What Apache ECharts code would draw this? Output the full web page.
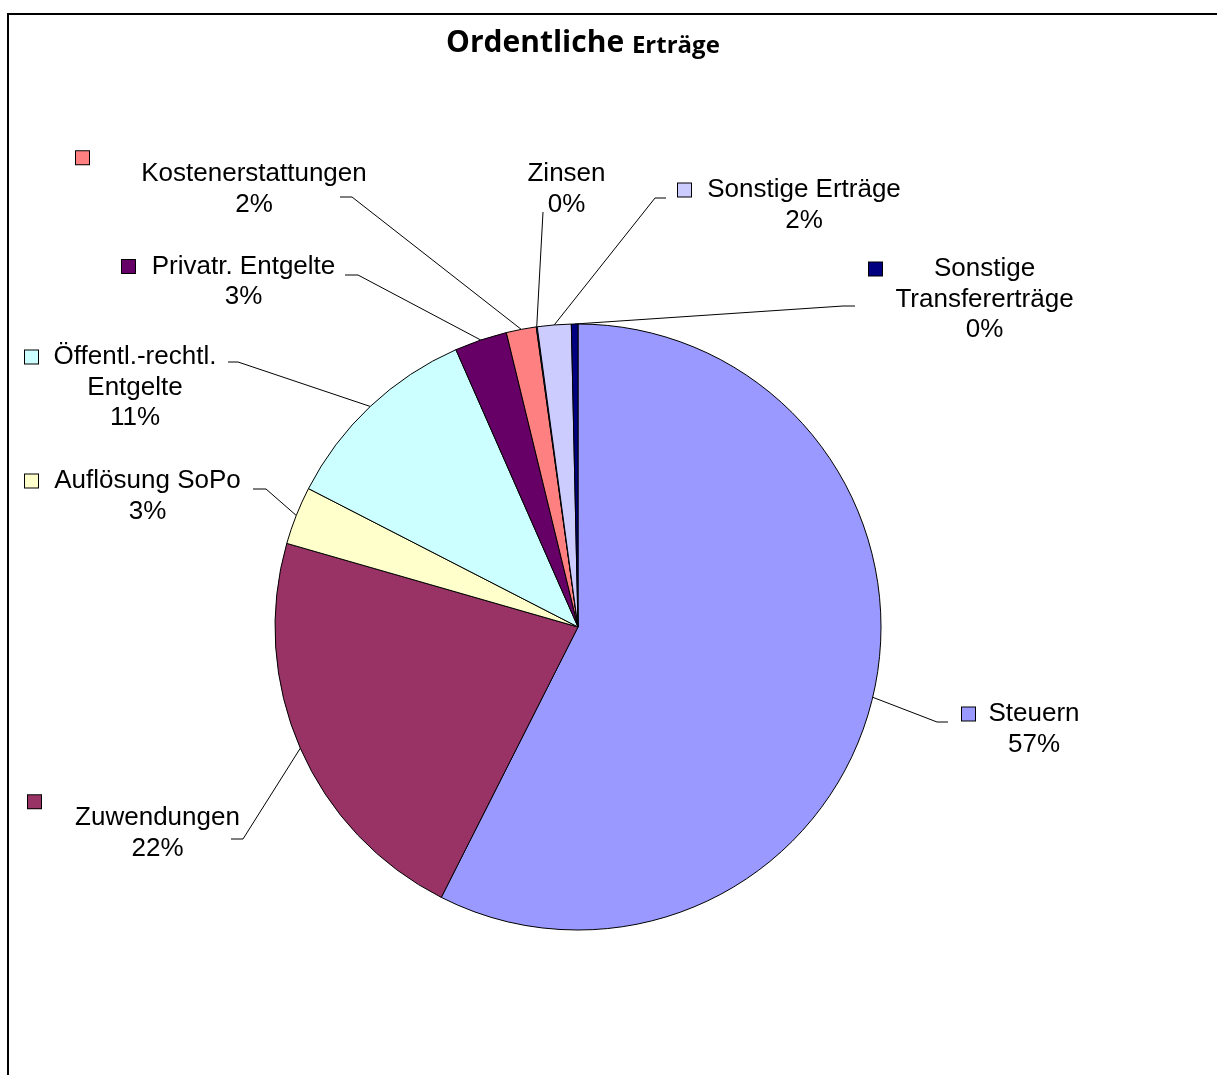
<!DOCTYPE html>
<html>
<head>
<meta charset="utf-8">
<title>Ordentliche Erträge</title>
<script src="https://cdn.jsdelivr.net/npm/echarts/dist/echarts.min.js"></script>
<style>
  html, body { margin: 0; padding: 0; background: #ffffff; }
  #chart { width: 1217px; height: 1075px; }
</style>
</head>
<body>
<div id="chart"></div>
<script>
// Anteile der ordentlichen Erträge (in %)
const categories = [
  'Steuern',
  'Zuwendungen',
  'Auflösung SoPo',
  'Öffentl.-rechtl.\nEntgelte',
  'Privatr. Entgelte',
  'Kostenerstattungen',
  'Zinsen',
  'Sonstige Erträge',
  'Sonstige\nTransfererträge'
];
const shares = [57.45, 22.0, 3.1, 10.85, 2.8, 1.6, 0.05, 1.8, 0.35];
const sliceColors = ['#9999FF', '#993366', '#FFFFCC', '#CCFFFF', '#660066', '#FF8080', '#0066CC', '#CCCCFF', '#000080'];

// Label placement: block left edge, text centre, centre of first text line,
// how the colour key is shown, and the leader line's bend / end points.
const labelSpots = [
  { mode: 'inline', left: 962, cx: 1034,  y1: 714,   bend: [937, 722], end: [948, 722] },
  { mode: 'above',  left: 28,  cx: 157.5, y1: 818,   bend: [243, 839], end: [231, 839] },
  { mode: 'inline', left: 25,  cx: 147.5, y1: 481,   bend: [266, 489], end: [253, 489] },
  { mode: 'inline', left: 25,  cx: 135,   y1: 357,   bend: [238, 362], end: [228, 362] },
  { mode: 'inline', left: 122, cx: 243.5, y1: 266.5, bend: [358, 275], end: [345, 275] },
  { mode: 'above',  left: 76,  cx: 254,   y1: 174,   bend: [352, 197], end: [340, 197] },
  { mode: 'none',   left: 517, cx: 566.5, y1: 174,   bend: [543, 212], end: [543, 212] },
  { mode: 'inline', left: 678, cx: 804,   y1: 190,   bend: [655, 198], end: [666, 198] },
  { mode: 'inline', left: 869, cx: 984.5, y1: 269,   bend: [843, 306], end: [855, 306] }
];

const KEY = 13;          // size of the colour key square
const LINE_H = 30.5;     // label line height
const LABEL_FONT = '"Liberation Sans", Arial, sans-serif';

function blockWidth(s) {
  return s.mode === 'none' ? 2 * (s.cx - s.left) : 2 * (s.cx - s.left) - KEY;
}
function blockTop(s) {
  return s.mode === 'above' ? s.y1 - LINE_H / 2 - 2 : s.y1 - LINE_H / 2;
}

// Rich text styles: one key square per slice colour
const rich = {
  t: { fontFamily: LABEL_FONT, fontSize: 26, color: '#000', lineHeight: LINE_H, align: 'center' },
  sp: { width: KEY, height: KEY, align: 'left', lineHeight: LINE_H }
};
sliceColors.forEach(function (c, i) {
  rich['k' + i] = { width: KEY, height: KEY, backgroundColor: c, borderColor: '#000', borderWidth: 1, align: 'left', lineHeight: LINE_H };
  rich['kt' + i] = { width: KEY, height: KEY, backgroundColor: c, borderColor: '#000', borderWidth: 1, align: 'left', lineHeight: 2 };
});

function labelText(p) {
  const s = labelSpots[p.dataIndex];
  const lines = p.name.split('\n').concat([Math.round(p.percent) + '%']);
  if (s.mode === 'none') {
    return lines.map(function (l) { return '{t|' + l + '}'; }).join('\n');
  }
  const body = lines.map(function (l, j) {
    const lead = (s.mode === 'inline' && j === 0) ? '{k' + p.dataIndex + '|}' : '{sp|}';
    return lead + '{t|' + l + '}';
  });
  if (s.mode === 'above') body.unshift('{kt' + p.dataIndex + '|}');
  return body.join('\n');
}

const pieData = categories.map(function (name, i) {
  return {
    name: name,
    value: shares[i],
    itemStyle: { color: sliceColors[i] },
    label: { width: blockWidth(labelSpots[i]) }
  };
});

const chart = echarts.init(document.getElementById('chart'), null, { renderer: 'canvas' });

chart.setOption({
  backgroundColor: '#ffffff',
  animation: false,
  title: {
    text: '{a|Ordentliche }{b|Erträge}',
    left: 446,
    top: 28,
    padding: 0,
    textStyle: {
      rich: {
        a: { fontFamily: '"Open Sans", sans-serif', fontWeight: 'bold', fontSize: 30, color: '#000', verticalAlign: 'bottom' },
        b: { fontFamily: '"Open Sans", sans-serif', fontWeight: 'bold', fontSize: 24, color: '#000', verticalAlign: 'bottom' }
      }
    }
  },
  graphic: [{
    type: 'rect',
    shape: { x: 8, y: 14, width: 1400, height: 1300 },
    style: { fill: 'none', stroke: '#000', lineWidth: 2 },
    silent: true
  }],
  series: [{
    type: 'pie',
    center: [578, 627],
    radius: 303,
    startAngle: 90,
    clockwise: true,
    avoidLabelOverlap: false,
    emphasis: { disabled: true },
    itemStyle: { borderColor: '#000', borderWidth: 1 },
    label: {
      show: true,
      position: 'outer',
      overflow: 'none',
      align: 'left',
      verticalAlign: 'top',
      formatter: labelText,
      rich: rich
    },
    labelLine: {
      show: true,
      length: 20,
      length2: 10,
      lineStyle: { color: '#000', width: 1 }
    },
    labelLayout: function (p) {
      const s = labelSpots[p.dataIndex];
      const out = { x: s.left, y: blockTop(s), align: 'left', verticalAlign: 'top' };
      if (p.labelLinePoints && p.labelLinePoints.length) {
        out.labelLinePoints = [p.labelLinePoints[0], s.bend, s.end];
      }
      return out;
    },
    data: pieData
  }]
});
</script>
</body>
</html>
